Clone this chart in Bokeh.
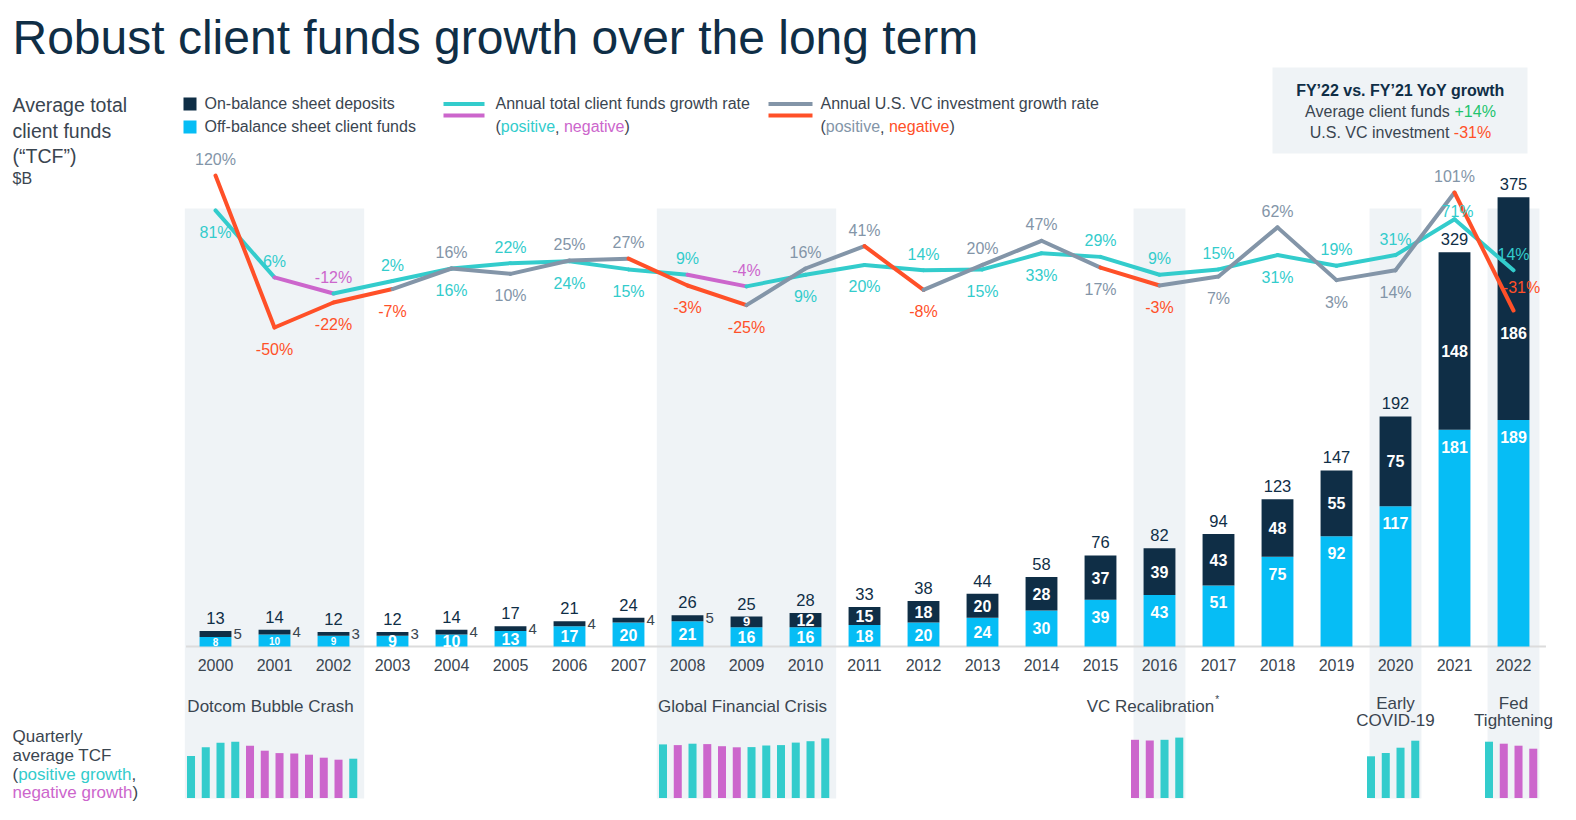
from bokeh.plotting import figure
from bokeh.models import Range1d, Label, BoxAnnotation
from bokeh.core.properties import value
from bokeh.embed import file_html
from bokeh.resources import INLINE

# ---------------- data ----------------
years = list(range(2000, 2023))
off_balance = [8, 10, 9, 9, 10, 13, 17, 20, 21, 16, 16, 18, 20, 24, 30, 39, 43, 51, 75, 92, 117, 181, 189]
on_balance = [5, 4, 3, 3, 4, 4, 4, 4, 5, 9, 12, 15, 18, 20, 28, 37, 39, 43, 48, 55, 75, 148, 186]
total_funds = [13, 14, 12, 12, 14, 17, 21, 24, 26, 25, 28, 33, 38, 44, 58, 76, 82, 94, 123, 147, 192, 329, 375]
tcf_growth = [81, 6, -12, 2, 16, 22, 24, 15, 9, -4, 9, 20, 14, 15, 33, 29, 9, 15, 31, 19, 31, 71, 14]
vc_growth = [120, -50, -22, -7, 16, 10, 25, 27, -3, -25, 16, 41, -8, 20, 47, 17, -3, 7, 62, 3, 14, 101, -31]

period_names = ["Dotcom Bubble Crash", "Global Financial Crisis", "VC Recalibration*",
                "Early\nCOVID-19", "Fed\nTightening"]
period_start = [2000, 2008, 2016, 2020, 2022]
period_end = [2002, 2010, 2016, 2020, 2022]

# quarterly average TCF mini charts (relative bar heights), one list per period
q_values = [
    [42.0, 50.7, 55.3, 56.3, 52.3, 47.3, 44.9, 44.5, 43.3, 40.3, 38.3, 39.3],
    [53.6, 52.9, 54.3, 53.9, 51.8, 50.7, 50.9, 52.5, 52.9, 55.4, 56.8, 59.6],
    [58.2, 57.5, 58.2, 60.4],
    [41.7, 45.0, 50.3, 57.3],
    [56.3, 54.3, 52.3, 49.3],
]
q_prev = [41.0, 53.0, 59.0, 40.0, 55.0]  # quarter preceding each period

# ---------------- style ----------------
NAVY = "#0f2e46"
BLUE = "#06bdf5"
CYAN = "#33cccc"
MAGENTA = "#cc66cc"
GRAY = "#8395a8"
RED = "#ff5028"
GREEN = "#22c46e"
TEXT = "#3a4550"
BAND = "#eff3f6"
FONT = "Liberation Sans"

W, H = 1560, 808
OX = OY = 0
X0, DX = 215.0, 59.0          # pixel centre of year 2000, pixels per year
BASE_Y, PX_B = 646.0, 1.198   # $B scale
PCT_Y, PX_PCT = 282.3, 0.894  # growth-rate scale
QB_Y = 797.5                  # mini chart baseline


def rng(zero_y, px):
    return Range1d((zero_y - OY - H) / px, (zero_y - OY) / px)


def sx(x):
    return x - OX


def sy(y):
    return H - (y - OY)


p = figure(width=W, height=H, output_backend="svg", toolbar_location=None,
           x_range=Range1d(2000 + (OX - X0) / DX, 2000 + (OX + W - X0) / DX),
           y_range=rng(BASE_Y, PX_B),
           x_axis_location=None, y_axis_location=None, min_border=0,
           outline_line_color=None, background_fill_color="white",
           border_fill_color="white")
p.grid.visible = False
p.extra_y_ranges = {"pct": rng(PCT_Y, PX_PCT), "q": rng(QB_Y, 1.0)}

AW = {' ': 278, '(': 333, ')': 333, ',': 278, '.': 278, '+': 584, '-': 333, '%': 889, '\u2019': 222,
      'a': 556, 'b': 556, 'c': 500, 'd': 556, 'e': 556, 'f': 278, 'g': 556, 'h': 556, 'i': 222,
      'j': 222, 'k': 500, 'l': 222, 'm': 833, 'n': 556, 'o': 556, 'p': 556, 'q': 556, 'r': 333,
      's': 500, 't': 278, 'u': 556, 'v': 500, 'w': 722, 'x': 500, 'y': 500, 'z': 500,
      'A': 667, 'C': 722, 'F': 611, 'R': 722, 'S': 667, 'T': 611, 'U': 722, 'V': 667, 'Y': 667}


def tw(s, size):
    return sum(AW.get(c, 556) for c in s) * size / 1000.0


def lab(text, x, y, size, color, align="left", bold=False, baseline="middle", xu="screen", xo=0):
    p.add_layout(Label(x=x, y=y, x_units=xu, y_units="screen", text=text, text_font=FONT,
                       text_font_size=f"{size}px", text_color=color, text_align=align,
                       text_baseline=baseline, x_offset=xo,
                       text_font_style="bold" if bold else "normal"))


def mixed(parts, x, y, size, center=False):
    total = sum(tw(t, size) for t, _ in parts)
    if center:
        x -= total / 2
    for t, c in parts:
        if t.strip():
            lab(t, x, y, size, c)
        x += tw(t, size)


def box(l, r, t, b, color):
    p.add_layout(BoxAnnotation(left=sx(l), right=sx(r), top=sy(t), bottom=sy(b),
                               left_units="screen", right_units="screen",
                               top_units="screen", bottom_units="screen",
                               fill_color=color, fill_alpha=1, line_color=None, level="underlay"))


# ---------------- shaded periods ----------------
for s, e in zip(period_start, period_end):
    half = 0.52 if e > s else 0.44
    p.add_layout(BoxAnnotation(left=s - half, right=e + half, top=sy(208), bottom=sy(798),
                               top_units="screen", bottom_units="screen",
                               fill_color=BAND, fill_alpha=1, line_color=None, level="underlay"))

# ---------------- baseline & bars ----------------
p.segment(x0=[years[0] - 0.5], x1=[years[-1] + 0.55], y0=[0], y1=[0],
          line_color="#dcdcdc", line_width=2)
p.vbar(x=years, bottom=0, top=off_balance, width=0.54, fill_color=BLUE, line_color=None)
p.vbar(x=years, bottom=off_balance, top=total_funds, width=0.54, fill_color=NAVY, line_color=None)

# totals
p.text(x=years, y=total_funds, text=[str(v) for v in total_funds], y_offset=-13,
       text_font=value(FONT), text_font_size=value("16.5px"), text_color=NAVY,
       text_align="center", text_baseline="middle")

# off-balance labels (inside)
off_y = [max(o - 17 / PX_B, o / 2) for o in off_balance]
off_sz = ["10px" if y < 2003 else "16px" for y in years]
p.text(x=years, y=off_y, text=[str(v) for v in off_balance], text_font=value(FONT),
       text_font_size=off_sz, text_color="white", text_font_style="bold",
       text_align="center", text_baseline="middle")

# on-balance labels
shift = {2021: 10, 2022: 24}
in_x, in_y, in_t, in_s, in_o = [], [], [], [], []
out_x, out_y, out_t = [], [], []
for yr, o, n in zip(years, off_balance, on_balance):
    if n * PX_B < 9:
        out_x.append(yr + 0.27)
        out_y.append(o + n / 2)
        out_t.append(str(n))
    else:
        in_x.append(yr)
        in_y.append(o + n / 2)
        in_t.append(str(n))
        in_s.append("13px" if n * PX_B < 13 else "16px")
        in_o.append(shift.get(yr, 0))
p.text(x=in_x, y=in_y, text=in_t, y_offset=in_o, text_font=value(FONT), text_font_size=in_s,
       text_color="white", text_font_style="bold", text_align="center", text_baseline="middle")
p.text(x=out_x, y=out_y, text=out_t, x_offset=2, text_font=value(FONT),
       text_font_size=value("15px"), text_color=TEXT, text_align="left", text_baseline="middle")

# ---------------- growth lines ----------------
for vals, pos, neg in ((tcf_growth, CYAN, MAGENTA), (vc_growth, GRAY, RED)):
    p.segment(x0=years[:-1], x1=years[1:], y0=vals[:-1], y1=vals[1:],
              line_color=[pos if v >= 0 else neg for v in vals[1:]],
              line_width=4, line_cap="round", y_range_name="pct")

overrides = {("tcf", 2021): (3, -8), ("vc", 2022): (8, -23)}
gx, gy, gt, gc, gdx, gdy = [], [], [], [], [], []
for yr, a, b in zip(years, tcf_growth, vc_growth):
    vc_up = b >= a
    for key, v, up, pos, neg in (("tcf", a, not vc_up, CYAN, MAGENTA), ("vc", b, vc_up, GRAY, RED)):
        dx, dy = overrides.get((key, yr), (0, -16 if up else 22))
        gx.append(yr); gy.append(v); gt.append(f"{v}%")
        gc.append(pos if v >= 0 else neg); gdx.append(dx); gdy.append(dy)
p.text(x=gx, y=gy, text=gt, x_offset=gdx, y_offset=gdy, text_color=gc,
       text_font=value(FONT), text_font_size=value("16px"), text_align="center",
       text_baseline="middle", y_range_name="pct")

# ---------------- quarterly mini charts ----------------
qx, qtop, qcol = [], [], []
for s, vals, prev in zip(period_start, q_values, q_prev):
    last = prev
    for k, v in enumerate(vals):
        qx.append(s + (k - 1.5) * 0.25 - 0.04)
        qtop.append(v)
        qcol.append(CYAN if v >= last else MAGENTA)
        last = v
p.vbar(x=qx, bottom=0, top=qtop, width=0.136, fill_color=qcol, line_color=None, y_range_name="q")

# period names
for name, s, e in zip(period_names, period_start, period_end):
    c = (s + e) / 2
    lines = name.split("\n")
    if len(lines) == 1:
        txt = lines[0].rstrip("*")
        xo = -9 if name.endswith("*") else -4
        lab(txt, c, sy(706), 17, TEXT, align="center", xu="data", xo=xo)
        if name.endswith("*"):
            lab("*", c, sy(699), 10, TEXT, align="left", xu="data", xo=xo + tw(txt, 17) / 2 + 1)
    else:
        for k, ln in enumerate(lines):
            lab(ln, c, sy(703 + 17 * k), 17, TEXT, align="center", xu="data")

# ---------------- header texts ----------------
lab("Robust client funds growth over the long term", sx(12), sy(37), 48, NAVY)

lab("Average total", sx(12), sy(104.5), 19.5, TEXT)
lab("client funds", sx(12), sy(130), 19.5, TEXT)
lab("(\u201cTCF\u201d)", sx(12), sy(155.5), 19.5, TEXT)
lab("$B", sx(12), sy(178), 16, TEXT)

box(183, 196, 97, 110, NAVY)
box(183, 196, 120, 133, BLUE)
lab("On-balance sheet deposits", sx(204), sy(103), 16, TEXT)
lab("Off-balance sheet client funds", sx(204), sy(126), 16, TEXT)

box(443, 484, 101.5, 105.5, CYAN)
box(443, 484, 113, 117, MAGENTA)
lab("Annual total client funds growth rate", sx(495), sy(103), 16, TEXT)
mixed([("(", TEXT), ("positive", CYAN), (",", TEXT), (" ", None), ("negative", MAGENTA), (")", TEXT)],
      sx(495), sy(126), 16)

box(768, 812, 101.5, 105.5, GRAY)
box(768, 812, 113, 117, RED)
lab("Annual U.S. VC investment growth rate", sx(820), sy(103), 16, TEXT)
mixed([("(", TEXT), ("positive", GRAY), (",", TEXT), (" ", None), ("negative", RED), (")", TEXT)],
      sx(820), sy(126), 16)

box(1272, 1527, 67, 153, BAND)
lab("FY\u201922 vs. FY\u201921 YoY growth", sx(1400), sy(90), 16, NAVY, align="center", bold=True)
mixed([("Average client funds", TEXT), (" ", None), ("+14%", GREEN)], sx(1400), sy(111), 16, center=True)
mixed([("U.S. VC investment", TEXT), (" ", None), ("-31%", RED)], sx(1400), sy(132), 16, center=True)

# year labels
p.text(x=years, y=[0] * len(years), text=[str(y) for y in years], y_offset=18,
       text_font=value(FONT), text_font_size=value("16px"), text_color=TEXT,
       text_align="center", text_baseline="middle")

# bottom-left caption
lab("Quarterly", sx(12), sy(736), 17, TEXT)
lab("average TCF", sx(12), sy(755), 17, TEXT)
mixed([("(", TEXT), ("positive growth", CYAN), (",", TEXT)], sx(12), sy(773.5), 17)
mixed([("negative growth", MAGENTA), (")", TEXT)], sx(12), sy(792), 17)

open("out.html", "w", encoding="utf-8").write(file_html(p, INLINE))
